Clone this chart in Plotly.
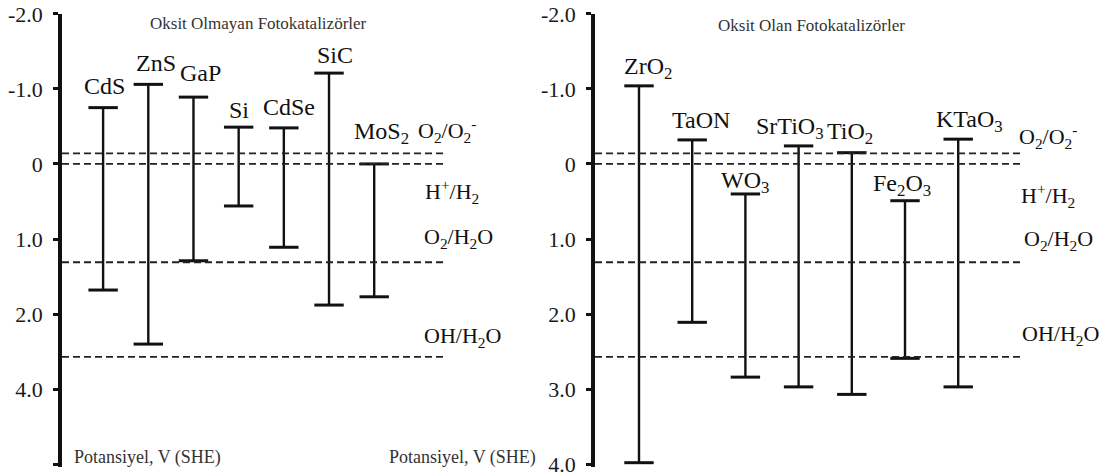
import plotly.graph_objects as go

# ---------------- data ----------------
left_names = ["CdS", "ZnS", "GaP", "Si", "CdSe", "SiC", "MoS<sub>2</sub>"]
left_cb = [-0.75, -1.06, -0.89, -0.49, -0.48, -1.21, 0.00]
left_vb = [1.68, 2.40, 1.29, 0.56, 1.11, 1.88, 1.77]

right_names = ["ZrO<sub>2</sub>", "TaON", "WO<sub>3</sub>", "SrTiO<sub>3</sub>",
               "TiO<sub>2</sub>", "Fe<sub>2</sub>O<sub>3</sub>", "KTaO<sub>3</sub>"]
right_cb = [-1.04, -0.32, 0.40, -0.24, -0.15, 0.49, -0.33]
right_vb = [3.98, 2.11, 2.84, 2.97, 3.07, 2.59, 2.97]

redox_names = ["O<sub>2</sub>/O<sub>2</sub><sup>-</sup>", "H<sup>+</sup>/H<sub>2</sub>",
               "O<sub>2</sub>/H<sub>2</sub>O", "OH/H<sub>2</sub>O"]
redox_values = [-0.14, 0.00, 1.31, 2.57]

tick_values = [-2, -1, 0, 1, 2, 3, 4]
left_tick_text = ["-2.0", "-1.0", "0", "1.0", "2.0", "4.0", ""]
right_tick_text = ["-2.0", "-1.0", "0", "1.0", "2.0", "3.0", "4.0"]

left_title = "Oksit Olmayan Fotokatalizörler"
right_title = "Oksit Olan Fotokatalizörler"
axis_note = "Potansiyel, V (SHE)"

# ---------------- style / layout ----------------
W, H = 1108, 476
SERIF = "Liberation Serif, serif"
Y_RANGE = [4.04, -2.0]
Y_DOMAIN = [1 - 467.2 / H, 1 - 13.8 / H]
LEFT_DOM = [62 / W, 445 / W]
RIGHT_DOM = [595 / W, 1022 / W]
LEFT_XR = [-0.910, 7.567]
RIGHT_XR = [-0.827, 7.199]
left_label_dx = [1, 8, 7, 0, 5, 6, 7]
right_label_dx = [9, 9, 0, -9, -2, -3, 11]
left_label_dy = [22, 21, 24, 17, 21, 18, 31]
right_label_dy = [18, 20, 12, 18, 20, 16, 18]

fig = go.Figure()


def add_bands(names, cb, vb, xa, ya):
    for i, (n, t, b) in enumerate(zip(names, cb, vb)):
        fig.add_trace(go.Scatter(
            x=[i, i], y=[t, b], xaxis=xa, yaxis=ya, mode="lines+markers",
            line=dict(color="#111", width=2.4),
            marker=dict(symbol="line-ew", size=21, line=dict(color="#111", width=3)),
            showlegend=False, hoverinfo="skip", cliponaxis=False))


add_bands(left_names, left_cb, left_vb, "x", "y")
add_bands(right_names, right_cb, right_vb, "x2", "y2")

# band labels
for names, cb, dxs, dys, xr, yr in [
        (left_names, left_cb, left_label_dx, left_label_dy, "x", "y"),
        (right_names, right_cb, right_label_dx, right_label_dy, "x2", "y2")]:
    for i, (n, t) in enumerate(zip(names, cb)):
        fig.add_annotation(x=i, y=t, xref=xr, yref=yr, text=n, showarrow=False,
                           xanchor="center", yanchor="middle", xshift=dxs[i], yshift=dys[i],
                           font=dict(family=SERIF, size=24, color="#111"))

# redox reference lines
for xr, yr in [("x", "y"), ("x2", "y2")]:
    for v in redox_values:
        fig.add_shape(type="line", xref=xr + " domain", yref=yr, x0=0, x1=1, y0=v, y1=v,
                      line=dict(color="#222", width=1.8, dash="7px,4px"))

# redox labels (left panel, right panel)
redox_label_pos = {
    "y": [(447, 5, "bottom"), (452, -10, "top"), (458, 8, "bottom"), (462, 4, "bottom")],
    "y2": [(1048, -1, "bottom"), (1048, -14, "top"), (1058, 6, "bottom"), (1060, 6, "bottom")],
}
for yr, plist in redox_label_pos.items():
    for name, v, (px, dy, anc) in zip(redox_names, redox_values, plist):
        fig.add_annotation(x=px / W, y=v, xref="paper", yref=yr, text=name, showarrow=False,
                           xanchor="center", yanchor=anc, yshift=dy,
                           font=dict(family=SERIF, size=22, color="#111"))

# titles and notes
fig.add_annotation(x=258 / W, y=1 - 23 / H, xref="paper", yref="paper", text=left_title,
                   showarrow=False, xanchor="center", yanchor="middle",
                   font=dict(family=SERIF, size=17, color="#333"))
fig.add_annotation(x=811 / W, y=1 - 25 / H, xref="paper", yref="paper", text=right_title,
                   showarrow=False, xanchor="center", yanchor="middle",
                   font=dict(family=SERIF, size=17, color="#333"))
fig.add_annotation(x=72 / W, y=1 - 457 / H, xref="paper", yref="paper", text=axis_note,
                   showarrow=False, xanchor="left", yanchor="middle",
                   font=dict(family=SERIF, size=18, color="#333"))
fig.add_annotation(x=387 / W, y=1 - 457 / H, xref="paper", yref="paper", text=axis_note,
                   showarrow=False, xanchor="left", yanchor="middle",
                   font=dict(family=SERIF, size=18, color="#333"))

xcommon = dict(showline=False, showgrid=False, zeroline=False, showticklabels=False,
               ticks="", automargin=False)
ycommon = dict(range=Y_RANGE, domain=Y_DOMAIN, showgrid=False, zeroline=False,
               tickmode="array", tickvals=tick_values, automargin=False,
               showline=True, linecolor="#111", linewidth=3.5,
               ticks="outside", ticklen=5, tickwidth=2.5, tickcolor="#111",
               ticklabelstandoff=6, ticklabeloverflow="allow",
               tickfont=dict(family=SERIF, size=22, color="#1a1a1a"))
yover = dict(range=Y_RANGE, showgrid=False, zeroline=False, tickmode="array",
             tickvals=tick_values, showline=False, ticks="inside", ticklen=5,
             tickwidth=2.5, tickcolor="#111", showticklabels=False, automargin=False)

fig.update_layout(
    width=W, height=H, margin=dict(l=0, r=0, t=0, b=0, autoexpand=False),
    paper_bgcolor="white", plot_bgcolor="white", showlegend=False,
    font=dict(family=SERIF),
    xaxis=dict(domain=LEFT_DOM, range=LEFT_XR, anchor="y", **xcommon),
    xaxis2=dict(domain=RIGHT_DOM, range=RIGHT_XR, anchor="y2", **xcommon),
    yaxis=dict(anchor="x", ticktext=left_tick_text, **ycommon),
    yaxis2=dict(anchor="x2", ticktext=right_tick_text, **ycommon),
    yaxis3=dict(overlaying="y", anchor="x", side="left", **yover),
    yaxis4=dict(overlaying="y2", anchor="x2", side="left", **yover),
)

fig.write_html("out.html", config={"displayModeBar": False},
               post_script="document.body.style.margin='0';")
